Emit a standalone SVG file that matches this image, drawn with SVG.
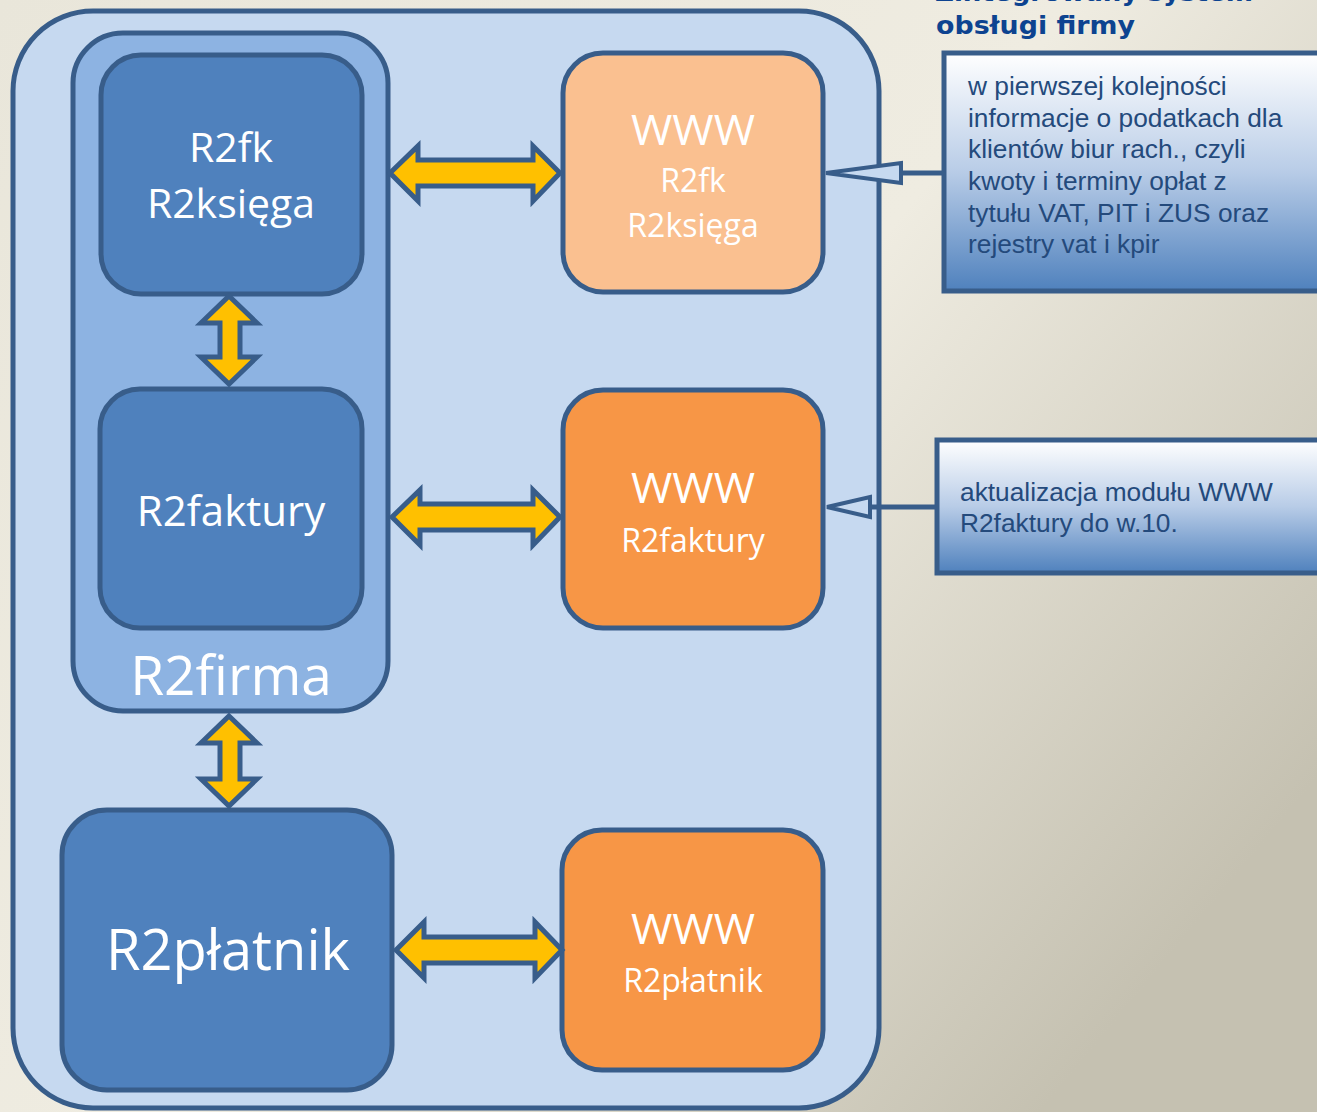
<svg xmlns="http://www.w3.org/2000/svg" width="1317" height="1112" viewBox="0 0 1317 1112">
<defs>
<linearGradient id="bg" x1="0" y1="0" x2="1" y2="0.7">
<stop offset="0" stop-color="#e9e6da"/>
<stop offset="0.55" stop-color="#efece1"/>
<stop offset="1" stop-color="#c5c1b1"/>
</linearGradient>
<linearGradient id="call" x1="0" y1="0" x2="0" y2="1">
<stop offset="0" stop-color="#ffffff"/>
<stop offset="0.5" stop-color="#b8cce7"/>
<stop offset="1" stop-color="#4f81bd"/>
</linearGradient>
<style>
.box{stroke:#385d8a;stroke-width:5}
.dark{fill:#4f81bd}
.www{fill:#f79646}
.lbl{font-family:"Open Sans","Liberation Sans",sans-serif;fill:#ffffff;text-anchor:middle}
.big{font-size:42px}
.sm{font-size:32px}
.arr{fill:#ffc000;stroke:#385d8a;stroke-width:5;stroke-linejoin:miter}
.cline{stroke:#385d8a;stroke-width:5;fill:none}
.ctri{fill:#c6d9f0;stroke:#385d8a;stroke-width:4}
.ctext{font-family:"Liberation Sans",Arial,sans-serif;font-size:26.3px;fill:#244a7c}
.title{font-family:"DejaVu Sans",Verdana,sans-serif;font-weight:bold;font-size:25px;fill:#0d4390}
</style>
</defs>
<rect x="0" y="0" width="1317" height="1112" fill="url(#bg)"/>

<g id="title">
<text class="title" x="935" y="1" textLength="318" lengthAdjust="spacingAndGlyphs">Zintegrowany system</text>
<text class="title" x="936" y="34" textLength="199" lengthAdjust="spacingAndGlyphs">obsługi firmy</text>
</g>

<g id="outer">
<rect class="box" x="13" y="11" width="866" height="1097" rx="80" ry="80" fill="#c6d9f0"/>
</g>

<g id="r2firma">
<rect class="box" x="73" y="33" width="315" height="678" rx="50" ry="50" fill="#8db3e2"/>
<text class="lbl" x="231" y="695" font-size="55">R2firma</text>
</g>

<g id="r2fk">
<rect class="box dark" x="101" y="55" width="261" height="239" rx="40" ry="40"/>
<text class="lbl" x="231" y="162" font-size="41">R2fk</text>
<text class="lbl" x="231" y="218" font-size="41">R2księga</text>
</g>

<g id="r2faktury">
<rect class="box dark" x="100" y="389" width="262" height="239" rx="40" ry="40"/>
<text class="lbl" x="231" y="526" font-size="42">R2faktury</text>
</g>

<g id="r2platnik">
<rect class="box dark" x="62" y="810" width="330" height="280" rx="45" ry="45"/>
<text class="lbl" x="228" y="970" font-size="56">R2płatnik</text>
</g>

<g id="www-r2fk">
<rect class="box" x="563" y="53" width="260" height="239" rx="40" ry="40" fill="#fac090"/>
<text class="lbl big" x="693" y="145" textLength="124" lengthAdjust="spacingAndGlyphs">WWW</text>
<text class="lbl sm" x="693" y="192">R2fk</text>
<text class="lbl sm" x="693" y="237">R2księga</text>
</g>

<g id="www-r2faktury">
<rect class="box www" x="563" y="390" width="260" height="238" rx="40" ry="40"/>
<text class="lbl big" x="693" y="503" textLength="124" lengthAdjust="spacingAndGlyphs">WWW</text>
<text class="lbl sm" x="693" y="552">R2faktury</text>
</g>

<g id="www-r2platnik">
<rect class="box www" x="562" y="830" width="261" height="240" rx="40" ry="40"/>
<text class="lbl big" x="693" y="944" textLength="124" lengthAdjust="spacingAndGlyphs">WWW</text>
<text class="lbl sm" x="693" y="992">R2płatnik</text>
</g>

<g id="callout1">
<rect x="944" y="53" width="420" height="238" fill="url(#call)" stroke="#385d8a" stroke-width="5"/>
<text class="ctext" x="968" y="95">w pierwszej kolejności</text>
<text class="ctext" x="968" y="127">informacje o podatkach dla</text>
<text class="ctext" x="968" y="158">klientów biur rach., czyli</text>
<text class="ctext" x="968" y="190">kwoty i terminy opłat z</text>
<text class="ctext" x="968" y="222">tytułu VAT, PIT i ZUS oraz</text>
<text class="ctext" x="968" y="253">rejestry vat i kpir</text>
</g>

<g id="callout2">
<rect x="937" y="440" width="420" height="133" fill="url(#call)" stroke="#385d8a" stroke-width="5"/>
<text class="ctext" x="960" y="501">aktualizacja modułu WWW</text>
<text class="ctext" x="960" y="532">R2faktury do w.10.</text>
</g>

<g id="connectors">
<polygon class="arr" points="390,173 418,146 418,160 533,160 533,146 560,173 533,201 533,186 418,186 418,201"/>
<polygon class="arr" points="392,517 420,490 420,504 533,504 533,490 560,517 533,545 533,530 420,530 420,545"/>
<polygon class="arr" points="396,950 424,922 424,937 535,937 535,922 562,950 535,978 535,963 424,963 424,978"/>
<polygon class="arr" points="229,296 257,323 240,323 240,357 257,357 229,384 201,357 220,357 220,323 201,323"/>
<polygon class="arr" points="229,716 257,743 240,743 240,779 257,779 229,806 201,779 220,779 220,743 201,743"/>
<line class="cline" x1="944" y1="173" x2="900" y2="173"/>
<polygon class="ctri" points="826,173 901,163 901,183"/>
<line class="cline" x1="937" y1="507" x2="870" y2="507"/>
<polygon class="ctri" points="827,507 870,497 870,517"/>
</g>
</svg>
